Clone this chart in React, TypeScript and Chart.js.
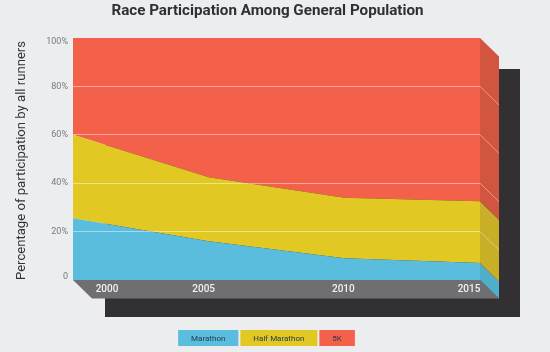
import React, { useEffect, useRef } from "react";
import { Chart, registerables } from "chart.js";

Chart.register(...registerables);

const years = ["2000", "2005", "2010", "2015"];
const marathon = [25.5, 16, 9, 7];
const halfMarathon = [34.5, 26.5, 25, 25.5];
const fiveK = [40, 57.5, 66, 67.5];
const yTicks = [0, 20, 40, 60, 80, 100];

const BG = "#ECEDEF";
const seriesStyle = [
  { fill: "#5ABDDD", side: "#51AEC9" },
  { fill: "#E2C822", side: "#C9AE27" },
  { fill: "#F4614A", side: "#D2563F" },
];
const DEPTH_X = 19;
const DEPTH_Y = 18.5;
const xLabelShift = [34, -5, -1, -11];

const extrude = {
  id: "extrude",
  beforeDatasetsDraw(chart: any) {
    const { ctx, chartArea: a, scales } = chart;
    const y = scales.y;
    ctx.save();
    // drop shadow
    ctx.fillStyle = "#323032";
    ctx.fillRect(a.left + 32, a.top + 31, a.width + 8, a.height + 6);
    // floor
    ctx.fillStyle = "#6F6F71";
    ctx.beginPath();
    ctx.moveTo(a.left, a.bottom);
    ctx.lineTo(a.right, a.bottom);
    ctx.lineTo(a.right + DEPTH_X, a.bottom + DEPTH_Y);
    ctx.lineTo(a.left + DEPTH_X, a.bottom + DEPTH_Y);
    ctx.closePath();
    ctx.fill();
    // side faces, stacked like the data
    let base = 0;
    chart.data.datasets.forEach((ds: any, i: number) => {
      const v = ds.data[ds.data.length - 1];
      const y0 = y.getPixelForValue(base);
      const y1 = y.getPixelForValue(base + v);
      ctx.fillStyle = seriesStyle[i].side;
      ctx.beginPath();
      ctx.moveTo(a.right, y0);
      ctx.lineTo(a.right, y1);
      ctx.lineTo(a.right + DEPTH_X, y1 + DEPTH_Y);
      ctx.lineTo(a.right + DEPTH_X, y0 + DEPTH_Y);
      ctx.closePath();
      ctx.fill();
      base += v;
    });
    // grid lines running across the side
    ctx.strokeStyle = "rgba(255,255,255,0.4)";
    ctx.lineWidth = 1;
    yTicks.slice(1, -1).forEach((t) => {
      const p = y.getPixelForValue(t);
      ctx.beginPath();
      ctx.moveTo(a.right, p);
      ctx.lineTo(a.right + DEPTH_X, p + DEPTH_Y);
      ctx.stroke();
    });
    ctx.restore();
  },
  afterDraw(chart: any) {
    const { ctx, chartArea: a, scales } = chart;
    ctx.save();
    // category labels on the floor
    ctx.fillStyle = "#F2F2F2";
    ctx.font = "500 10px Roboto";
    ctx.textAlign = "center";
    ctx.textBaseline = "middle";
    years.forEach((label, i) => {
      ctx.fillText(label, scales.x.getPixelForValue(i) + xLabelShift[i], a.bottom + 9.5);
    });
    // legend chips with the label inside
    ctx.font = "8px Roboto";
    const pad = 13;
    const gap = 2;
    const sets = chart.data.datasets;
    const widths = sets.map((d: any) => ctx.measureText(d.label).width + pad * 2);
    const total = widths.reduce((s: number, w: number) => s + w, 0) + gap * (sets.length - 1);
    let x = 266.5 - total / 2;
    sets.forEach((d: any, i: number) => {
      ctx.fillStyle = seriesStyle[i].fill;
      ctx.fillRect(x, 330, widths[i], 16);
      ctx.fillStyle = "#1F3A4D";
      ctx.fillText(d.label, x + widths[i] / 2, 338.5);
      x += widths[i] + gap;
    });
    ctx.restore();
  },
};

export default function App() {
  const ref = useRef<HTMLCanvasElement>(null);
  useEffect(() => {
    const chart = new Chart(ref.current!, {
      type: "line",
      plugins: [extrude],
      data: {
        labels: years,
        datasets: [
          { label: "Marathon", data: marathon, yAxisID: "y", backgroundColor: seriesStyle[0].fill, fill: "origin" },
          { label: "Half Marathon", data: halfMarathon, yAxisID: "y", backgroundColor: seriesStyle[1].fill, fill: "-1" },
          { label: "5K", data: fiveK, yAxisID: "y", backgroundColor: seriesStyle[2].fill, fill: "-1" },
        ],
      },
      options: {
        responsive: false,
        animation: false,
        layout: { padding: { top: 2, right: 0, bottom: 72, left: 0 } },
        elements: { point: { radius: 0 }, line: { borderWidth: 0, tension: 0 } },
        plugins: {
          legend: { display: false },
          tooltip: { enabled: false },
          title: {
            display: true,
            text: "Race Participation Among General Population",
            color: "#2F3033",
            font: { family: "Roboto", size: 15.2, weight: "bold" },
            padding: { top: 0, bottom: 17.76 },
          },
        },
        scales: {
          x: { display: false, offset: false, grid: { display: false } },
          y: {
            stacked: true,
            min: 0,
            max: 100,
            border: { display: false },
            afterFit(scale: any) {
              scale.width = 73;
            },
            afterBuildTicks(scale: any) {
              scale.ticks = yTicks.map((value) => ({ value }));
            },
            grid: {
              z: 1,
              drawTicks: false,
              color: (c: any) =>
                c.tick && c.tick.value > 0 && c.tick.value < 100 ? "rgba(255,255,255,0.45)" : "rgba(0,0,0,0)",
            },
            ticks: {
              padding: 5,
              color: "#7A7A7A",
              font: (c: any) => ({
                family: "Roboto",
                size: 9,
                lineHeight: c.tick && (c.tick.value === 0 || c.tick.value === 100) ? 0.75 : 1.2,
              }),
              callback: (v: any) => (v === 0 ? ["0", ""] : v === 100 ? ["", "100%"] : v + "%"),
            },
            title: {
              display: true,
              align: "start",
              text: "Percentage of participation by all runners",
              color: "#333333",
              font: { family: "Roboto", size: 13.1 },
              padding: { top: 14, bottom: 0 },
            },
          },
          // empty right-hand gutter that holds the extruded side and the shadow
          gutter: {
            type: "linear",
            axis: "y",
            position: "right",
            min: 0,
            max: 100,
            display: true,
            grid: { display: false },
            border: { display: false },
            ticks: { display: false },
            afterFit(scale: any) {
              scale.width = 55;
            },
          },
        },
      } as any,
    });
    return () => chart.destroy();
  }, []);
  return (
    <div style={{ position: "absolute", left: 0, top: 0, width: 550, height: 352, background: BG, overflow: "hidden" }}>
      <canvas ref={ref} width={535} height={352} style={{ display: "block" }} />
    </div>
  );
}
